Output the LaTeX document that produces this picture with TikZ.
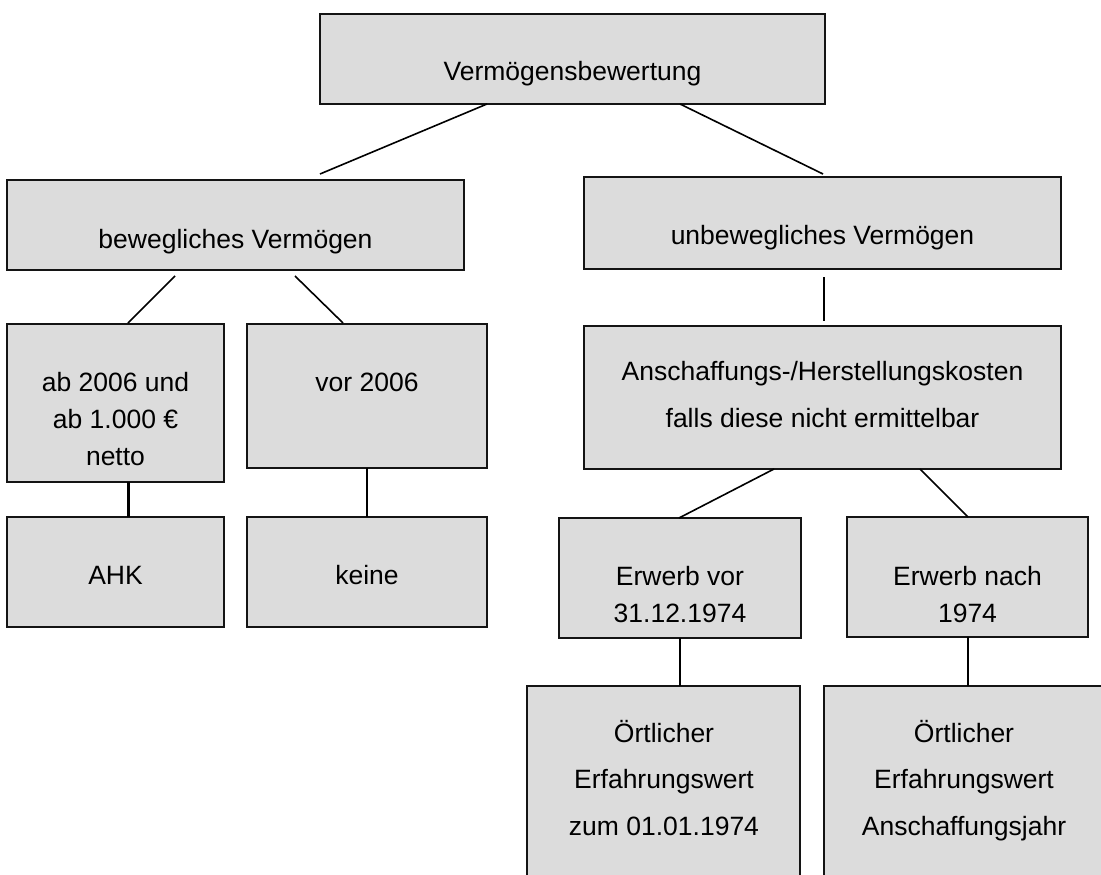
\documentclass[tikz,border=0pt]{standalone}
\usepackage{fontspec}
\setmainfont{Liberation Sans}
\definecolor{boxfill}{RGB}{220,220,220}
\definecolor{edge}{RGB}{20,20,20}
\begin{document}
\begin{tikzpicture}[x=1pt,y=-1pt,
  box/.style={draw=edge, fill=boxfill, line width=2.2pt, inner sep=0pt, outer sep=0pt, rectangle},
  conn/.style={draw=black, line width=1.6pt},
  lbl/.style={anchor=base, inner sep=0pt, font=\fontsize{26.5}{32}\selectfont}]
\path[use as bounding box] (0,0) rectangle (1101,875);
\clip (0,0) rectangle (1101,875);
% boxes
\node[box, minimum width=505pt, minimum height=90pt]  (top)   at (572.5,59) {};
\node[box, minimum width=457pt, minimum height=90pt]  (bew)   at (235.5,225) {};
\node[box, minimum width=477pt, minimum height=92pt]  (unb)   at (822.5,223) {};
\node[box, minimum width=477pt, minimum height=143pt] (ans)   at (822.5,397.5) {};
\node[box, minimum width=217pt, minimum height=158pt] (ab)    at (115.5,403) {};
\node[box, minimum width=240pt, minimum height=144pt] (vor)   at (367,396) {};
\node[box, minimum width=217pt, minimum height=110pt] (ahk)   at (115.5,572) {};
\node[box, minimum width=240pt, minimum height=110pt] (keine) at (367,572) {};
\node[box, minimum width=242pt, minimum height=120pt] (ev)    at (680,578) {};
\node[box, minimum width=241pt, minimum height=120pt] (en)    at (967.5,577) {};
\node[box, minimum width=273pt, minimum height=204pt] (ol)    at (663.5,788) {};
\node[box, minimum width=280pt, minimum height=204pt] (or)    at (964,788) {};
% texts
\node[lbl] (t1)  at (572.5,81)  {Vermögensbewertung};
\node[lbl] (t2)  at (235.5,248) {bewegliches Vermögen};
\node[lbl] (t3)  at (822.5,244) {unbewegliches Vermögen};
\node[lbl] (t4a) at (822.5,380) {Anschaffungs-/Herstellungskosten};
\node[lbl] (t4b) at (822.5,427) {falls diese nicht ermittelbar};
\node[lbl] (t5a) at (115.5,391) {ab 2006 und};
\node[lbl] (t5b) at (115.5,428) {ab 1.000 €};
\node[lbl] (t5c) at (115.5,465) {netto};
\node[lbl] (t6)  at (367,391)   {vor 2006};
\node[lbl] (t7)  at (115.5,584) {AHK};
\node[lbl] (t8)  at (367,584)   {keine};
\node[lbl] (t9a) at (680,585)   {Erwerb vor};
\node[lbl] (t9b) at (680,622)   {31.12.1974};
\node[lbl] (t10a) at (967.5,585) {Erwerb nach};
\node[lbl] (t10b) at (967.5,622) {1974};
\node[lbl] (t11a) at (664,742)  {Örtlicher};
\node[lbl] (t11b) at (664,788)  {Erfahrungswert};
\node[lbl] (t11c) at (664,835)  {zum 01.01.1974};
\node[lbl] (t12a) at (964,742)  {Örtlicher};
\node[lbl] (t12b) at (964,788)  {Erfahrungswert};
\node[lbl] (t12c) at (964,835)  {Anschaffungsjahr};
% connector free ends
\coordinate (c1) at (320,174);
\coordinate (c2) at (823,174);
\coordinate (c3a) at (175,276);
\coordinate (c3b) at (128,323);
\coordinate (c4a) at (295,276);
\coordinate (c4b) at (343,323);
\coordinate (c5a) at (824,277);
\coordinate (c5b) at (824,321);
% connectors
\draw[conn] (top.south -| 487,0) -- (c1);
\draw[conn] (top.south -| 680,0) -- (c2);
\draw[conn] (c3a) -- (c3b);
\draw[conn] (c4a) -- (c4b);
\draw[conn] (c5a) -- (c5b);
\draw[conn, line width=3pt] (ab.south -| 128,0) -- (ahk.north -| 128,0);
\draw[conn] (vor.south) -- (keine.north);
\draw[conn] (ans.south -| 774,0) -- (ev.north -| 679,0);
\draw[conn] (ans.south -| 920,0) -- (en.north -| 968,0);
\draw[conn] (ev.south) -- (ol.north -| ev.south);
\draw[conn] (en.south -| 968,0) -- (or.north -| 968,0);
\end{tikzpicture}
\end{document}
